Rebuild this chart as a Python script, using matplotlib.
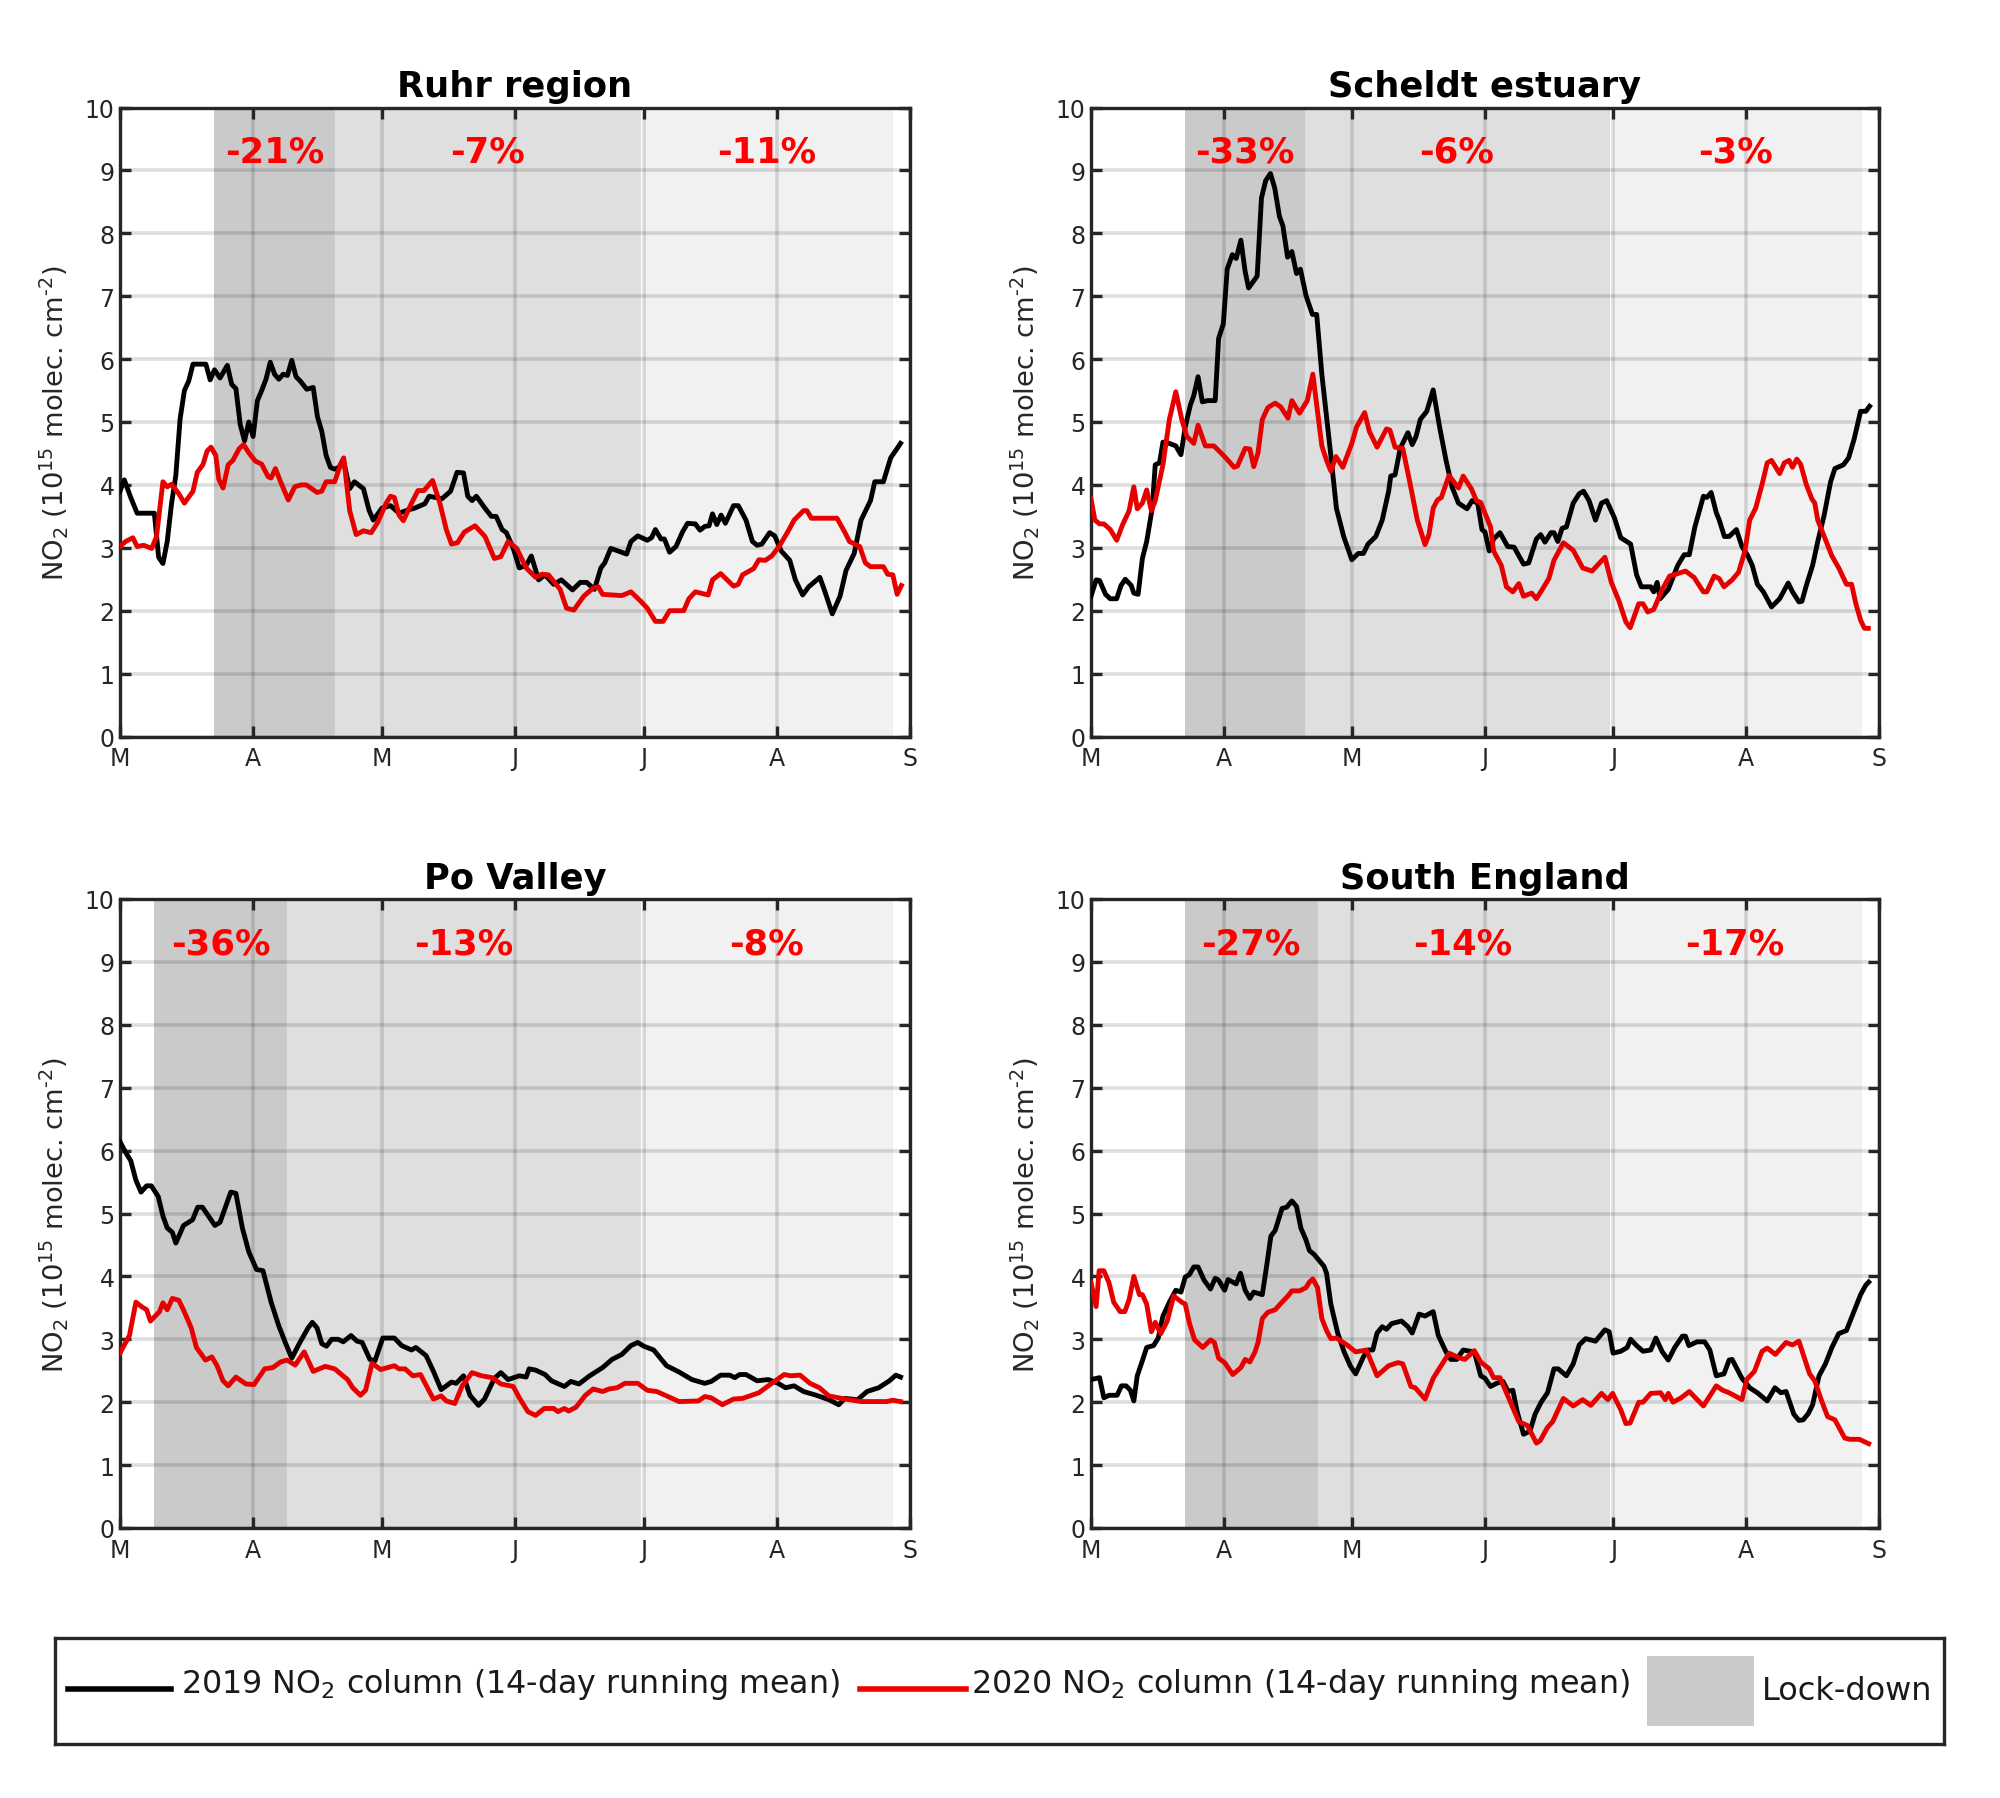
import matplotlib
matplotlib.use("Agg")
import matplotlib.pyplot as plt
from matplotlib.patches import Rectangle

plt.rcParams['font.family'] = ['DejaVu Sans']
plt.rcParams['mathtext.default'] = 'regular'

month_days = [0, 31, 61, 92, 122, 153, 184]
month_labels = ['M', 'A', 'M', 'J', 'J', 'A', 'S']

ruhr19_d = [0,1,2.5,4,8,9,10,11,12,13,14,15,16,17,20,21,22,23.3,25,26,27,28,29,30,31,32,33,34,35,36,37,38,39,40,41,42,43.5,45,46,47,48,49,50,51,52,53.5,54.6,56.7,58,59,61,63,65,67,68.6,71,72,75,77,78.5,80,81,82,83,85,86.5,87.6,89,90,91.6,93,94.6,95.8,97.5,99,101,102.8,105.4,107.2,108.7,110.5,112,112.9,114.3,116,118,119,120.6,122.8,123.8,124.7,126,126.8,128,129.5,131,132.2,134,135.1,136.2,137.2,138,139,140,141,142.9,144,145.8,147.3,148.4,149.5,151.3,152.5,154,156,157.3,159,160.4,163,164,165.9,167.7,169.1,171,172.6,174.8,175.8,177.8,179.5,181.8]
ruhr19_v = [3.9,4.08,3.8,3.55,3.55,2.85,2.75,3.1,3.7,4.15,5.05,5.5,5.65,5.92,5.92,5.67,5.83,5.7,5.9,5.6,5.53,4.96,4.7,5.0,4.77,5.34,5.5,5.68,5.95,5.76,5.68,5.76,5.74,5.98,5.72,5.65,5.52,5.55,5.08,4.85,4.47,4.28,4.25,4.28,4.4,3.94,4.05,3.94,3.6,3.44,3.63,3.67,3.55,3.6,3.63,3.7,3.82,3.78,3.9,4.2,4.19,3.82,3.75,3.82,3.63,3.5,3.5,3.29,3.24,2.99,2.68,2.72,2.87,2.49,2.57,2.42,2.49,2.33,2.45,2.45,2.34,2.68,2.76,2.99,2.95,2.9,3.1,3.19,3.12,3.16,3.29,3.14,3.14,2.93,3.02,3.25,3.39,3.38,3.28,3.34,3.35,3.54,3.37,3.52,3.39,3.67,3.67,3.44,3.1,3.04,3.06,3.24,3.19,2.95,2.8,2.49,2.25,2.38,2.53,2.34,1.95,2.23,2.64,2.91,3.44,3.75,4.05,4.05,4.43,4.66]
ruhr20_d = [0,1.3,3,4,5.5,7.4,8.5,10,11,12,13.7,15,17,18,19.3,20.3,21.2,22.3,23,24,25.2,26.3,27.8,28.8,30,31.5,33,34.5,35.2,36.2,37.4,39.2,40.7,42.2,43.4,45.9,47,48,50,51.5,52.1,53.5,55,56.7,58.5,60,62,63,63.9,65,66,67.9,69.4,70.8,72.8,74.5,76,77.2,78.6,80.2,82.7,85,87.2,88.7,90.4,92.4,94.6,96.8,98.3,99.8,102.5,104,105.7,108,110.2,111.4,112.4,114.6,116.9,119,121.3,122.8,124.7,126.5,128,131.3,132.5,134,137,138,139.9,142.9,144,145,147.6,148.8,150.3,151.8,153.5,155.5,157,159.2,160,161,162.9,165,167,168.8,169.9,172.3,173.6,174.8,177.8,178.8,180,181,182]
ruhr20_v = [3.02,3.1,3.16,3.02,3.04,2.99,3.18,4.05,3.97,4.01,3.86,3.71,3.9,4.2,4.32,4.54,4.6,4.47,4.09,3.95,4.32,4.39,4.58,4.64,4.51,4.38,4.33,4.13,4.11,4.26,4.05,3.76,3.97,4.0,4.0,3.88,3.9,4.05,4.05,4.35,4.43,3.59,3.21,3.27,3.24,3.4,3.71,3.82,3.8,3.52,3.43,3.71,3.91,3.91,4.07,3.71,3.29,3.06,3.08,3.25,3.35,3.18,2.83,2.86,3.1,2.99,2.68,2.53,2.58,2.57,2.34,2.04,2.01,2.23,2.36,2.38,2.26,2.25,2.24,2.3,2.15,2.04,1.83,1.83,2.0,2.0,2.19,2.3,2.25,2.49,2.59,2.39,2.42,2.57,2.67,2.81,2.8,2.87,3.02,3.25,3.44,3.59,3.59,3.47,3.47,3.47,3.47,3.25,3.1,3.02,2.76,2.7,2.7,2.58,2.57,2.26,2.4]

scheldt19_d = [0,1.2,2,3.4,4.5,6,7,8,9.4,10,11,12,13,14.3,15,16,16.8,18.3,19.8,21,22,23.2,24,25,26,27.2,29,29.8,30.9,31.8,33,33.9,35,36,36.8,38.8,39.8,40.8,41.9,42.9,44,44.8,45.9,46.9,48,48.9,50.2,51.7,52.7,53.9,55,56,57.3,59,60.9,62.4,63.6,64.7,66.5,68,69.5,70,71,72.2,74,75,75.9,76.9,78.4,79.9,81.4,82.9,84.3,85.8,87.8,89,90.3,91.3,92,93,94,95.5,97.3,98.8,101,102.2,104,105,106,107.4,108.1,109,110,111,112.6,114,115,116.3,117.8,119.2,120.4,122.2,123.7,126,127.4,128.5,130.7,131.4,132.2,132.9,134.8,137,138.5,139.7,141,143,143.8,144.8,146,146.7,147.9,149,150.7,152,153.4,154.4,155.6,157,158.9,160.8,162.8,163.8,165.3,166,167.2,168.5,169.7,171.2,172.7,173.7,175.7,176.9,178.2,179.7,180.9,181.8]
scheldt19_v = [2.23,2.49,2.48,2.26,2.19,2.19,2.4,2.5,2.4,2.28,2.26,2.83,3.1,3.63,4.32,4.35,4.68,4.66,4.62,4.48,4.92,5.27,5.42,5.72,5.32,5.34,5.34,6.33,6.56,7.43,7.66,7.6,7.89,7.39,7.13,7.32,8.56,8.84,8.95,8.72,8.27,8.12,7.62,7.71,7.36,7.43,7.01,6.71,6.71,5.76,5.08,4.47,3.63,3.18,2.81,2.91,2.91,3.06,3.18,3.44,3.9,4.14,4.16,4.58,4.83,4.64,4.77,5.04,5.17,5.51,4.92,4.39,3.97,3.71,3.62,3.75,3.71,3.29,3.25,2.95,3.14,3.24,3.02,3.01,2.74,2.76,3.14,3.21,3.09,3.24,3.24,3.1,3.31,3.33,3.71,3.86,3.9,3.75,3.44,3.71,3.75,3.48,3.16,3.06,2.57,2.38,2.38,2.3,2.45,2.19,2.34,2.72,2.89,2.89,3.33,3.82,3.8,3.88,3.56,3.44,3.18,3.18,3.29,3.02,2.87,2.72,2.42,2.3,2.06,2.19,2.44,2.3,2.14,2.15,2.44,2.72,3.1,3.52,4.05,4.26,4.32,4.43,4.73,5.17,5.17,5.25]
scheldt20_d = [0,0.9,2,3,4.5,6,7.4,8.9,10,10.8,12,13,14.1,15,16.8,18.3,19.8,21.2,22.4,24,25,26.7,28.7,30.9,32,33.4,34.2,36,37.1,38,39,40,41.3,43,44.3,46,46.9,48.7,50.5,51.8,53.2,53.9,55,56,57.2,58.8,60.9,62,63.9,65,66.8,69,69.8,71,72.8,74.3,76.2,78,78.9,79.9,80.9,81.8,83.6,85.8,86.9,88.8,90,91,93.3,94,95.8,97,98.5,99.9,101,102.9,104,105.4,106.9,108.1,110.3,112.6,114.8,117,120,121.5,123.3,124.9,125.9,127.9,128.9,130,131.4,133.4,135.1,137,138.8,140.8,143,143.8,145.5,146.7,147.8,149.7,151.2,152.7,153.8,155.2,156.7,157.9,158.9,160.8,161.9,163,163.8,164.8,165.7,167,168.3,169,169.7,171.2,173,174.6,176.4,177.6,178.6,179.7,180.6,181.5]
scheldt20_v = [3.78,3.44,3.38,3.38,3.29,3.12,3.37,3.59,3.97,3.62,3.71,3.92,3.59,3.75,4.32,5.04,5.48,5.04,4.77,4.66,4.95,4.62,4.62,4.47,4.39,4.28,4.3,4.58,4.57,4.29,4.51,5.04,5.23,5.3,5.24,5.06,5.34,5.14,5.34,5.76,5.0,4.62,4.39,4.22,4.45,4.28,4.66,4.92,5.15,4.85,4.6,4.89,4.87,4.6,4.58,4.09,3.44,3.05,3.21,3.63,3.76,3.8,4.15,3.95,4.14,3.94,3.75,3.72,3.33,2.95,2.72,2.38,2.3,2.43,2.23,2.28,2.19,2.34,2.51,2.8,3.08,2.96,2.68,2.63,2.85,2.45,2.15,1.82,1.73,2.11,2.11,1.98,2.02,2.34,2.55,2.59,2.63,2.53,2.3,2.3,2.55,2.51,2.38,2.49,2.61,2.95,3.44,3.63,4.01,4.35,4.39,4.18,4.35,4.39,4.28,4.41,4.33,4.01,3.78,3.71,3.44,3.18,2.87,2.68,2.42,2.42,2.11,1.85,1.72,1.72]

po19_d = [0,1.5,2.5,3.7,4.9,6.2,7.3,8.9,10,11,12.2,13,14.8,16.9,18.1,19.2,21,22.1,23.3,25.8,27,28.5,30,31.8,33.3,35.2,37,38.5,40,41.9,43.8,44.8,45.9,47,48.1,49.3,50.8,52,53.8,55.2,56.4,58.2,59.4,61.2,63.9,65.6,67.9,68.9,71.3,73,74.8,77.2,78.3,80,81.5,83.5,84.9,87.2,88.7,90.4,93,94.6,95.3,96.8,99,100.5,103.5,105,106.9,109.4,112.4,114.6,116.9,119,120.6,122,124.3,127.3,130.2,133.2,136.2,137.7,139.9,142,143.2,144.3,145.8,148.4,151,153.3,155,157,159.2,162.2,165.1,167.4,168.8,171.8,174,176.7,179.2,180.7,181.8]
po19_v = [6.14,5.95,5.84,5.53,5.34,5.44,5.44,5.27,4.96,4.77,4.7,4.53,4.81,4.9,5.1,5.1,4.92,4.81,4.86,5.34,5.32,4.77,4.39,4.11,4.09,3.59,3.21,2.95,2.7,2.95,3.18,3.27,3.18,2.93,2.89,3.0,3.0,2.96,3.06,2.97,2.95,2.68,2.66,3.02,3.02,2.9,2.83,2.87,2.74,2.49,2.2,2.32,2.3,2.42,2.11,1.95,2.05,2.38,2.47,2.36,2.42,2.4,2.53,2.51,2.44,2.34,2.25,2.33,2.29,2.42,2.55,2.68,2.76,2.9,2.95,2.89,2.83,2.58,2.48,2.36,2.3,2.33,2.43,2.43,2.39,2.44,2.44,2.34,2.36,2.3,2.23,2.26,2.17,2.11,2.04,1.96,2.06,2.04,2.17,2.23,2.34,2.43,2.4]
po20_d = [0,1,2.2,3.7,5,6.2,7.1,9.2,10,11,12.2,13.7,14.7,16.6,17.8,19.9,21.4,22.6,24,25.2,27,29.3,31.2,33.7,35.6,37.4,38.9,40.8,42.9,45,47.8,50,53,54.2,56,57.2,58.7,60.7,63.9,65,66.4,68.2,70,71.6,73,74.8,76,78,79.7,82,84.2,86.7,88.7,91.6,93,95,96.8,98.8,101,102,103.5,104.5,106.2,108.4,110.2,112.4,113.9,115.8,117.6,120.6,122.8,125,127.3,130.2,134.7,136.2,137.7,140.3,142.9,145,148.8,151,154.7,156.2,158.4,160.7,162.9,165.1,168.1,172.6,178.5,180,181.8]
po20_v = [2.78,2.91,3.06,3.59,3.52,3.47,3.29,3.44,3.58,3.47,3.65,3.62,3.48,3.18,2.87,2.67,2.72,2.58,2.34,2.26,2.4,2.29,2.28,2.53,2.55,2.64,2.67,2.59,2.8,2.49,2.57,2.53,2.36,2.23,2.11,2.19,2.62,2.52,2.58,2.53,2.53,2.42,2.44,2.23,2.05,2.1,2.02,1.98,2.26,2.47,2.42,2.39,2.29,2.25,2.07,1.85,1.79,1.9,1.9,1.85,1.9,1.86,1.92,2.11,2.21,2.17,2.21,2.23,2.3,2.3,2.19,2.17,2.1,2.01,2.02,2.09,2.07,1.96,2.05,2.06,2.15,2.26,2.44,2.42,2.43,2.3,2.23,2.1,2.06,2.01,2.01,2.03,2.01]

england19_d = [0,2,3,4.2,6.1,7.1,8.2,9.2,10,10.8,11.9,13,14.6,15.7,16.8,18.3,19.8,21,22,23,24,25,26.4,27.9,29,29.8,31.2,32,33.9,34.9,36,37.1,38,40,41,42,43,44.6,45.7,46.9,48,49,50.2,51,52.1,53.2,54.4,55,56,57.6,59.1,60.6,61.8,63.6,64.7,65.8,66.8,68,69,70.2,72.5,74,75,76.6,78,79.9,81.1,82.9,84,85.4,86.9,89.5,91,92,93.3,94.7,96.2,97.4,98.5,99.5,101,102.5,103.7,105.1,106.6,108.1,109.1,111,112.6,114,115.5,117.8,120,121,121.9,123.7,125.2,126,127.4,128.9,130.7,131.9,133.4,134.8,136.3,138.1,138.8,139.6,141.5,143.3,144.5,146,147.8,149,149.7,152,153.8,155.6,157.9,159.7,161.1,162.3,164.1,165.3,166.3,167.5,168.5,170,171.5,173,174.6,176.4,177.9,179.7,180.9,181.6]
england19_v = [2.36,2.39,2.07,2.11,2.11,2.26,2.26,2.19,2.02,2.42,2.64,2.87,2.9,3.02,3.37,3.59,3.78,3.75,3.99,4.03,4.15,4.15,3.94,3.8,3.97,3.94,3.78,3.95,3.88,4.05,3.78,3.65,3.75,3.71,4.16,4.64,4.73,5.08,5.1,5.2,5.11,4.77,4.58,4.41,4.35,4.26,4.16,4.05,3.56,3.1,2.8,2.57,2.45,2.72,2.83,2.83,3.1,3.2,3.16,3.25,3.29,3.2,3.1,3.4,3.37,3.44,3.06,2.8,2.68,2.68,2.83,2.8,2.42,2.38,2.25,2.3,2.33,2.17,2.19,1.85,1.49,1.54,1.81,2.0,2.15,2.53,2.53,2.42,2.61,2.91,3.01,2.97,3.15,3.12,2.78,2.81,2.87,3.0,2.9,2.81,2.83,3.02,2.8,2.67,2.87,3.05,3.05,2.9,2.96,2.96,2.83,2.42,2.45,2.67,2.68,2.38,2.23,2.15,2.02,2.23,2.15,2.17,1.81,1.71,1.72,1.82,1.96,2.42,2.61,2.87,3.09,3.14,3.4,3.71,3.86,3.91]
england20_d = [0,1.2,1.9,3,4.2,5.3,6.8,7.9,8.9,10,11.3,12,13,14.1,15,16.3,17.8,19.3,21.2,22,23,24.2,26.1,27.9,28.8,29.8,31.2,33.1,35,36,37.1,38.3,39,40,41.3,43,44.6,46,46.9,48.7,50.2,51,51.8,52.9,53.9,55,56,57.3,59.8,61.8,64.3,66.8,69.5,71.7,72.8,74.7,75.7,78,79.9,83.6,85.8,87.3,89.5,91,93,94,95.5,97.7,99.9,101.9,104,104.9,106.6,107.8,110.3,112.6,114.8,116.7,119.2,120.7,121.8,123.7,124.9,125.9,127.9,128.9,130.7,133,134.1,134.8,135.9,137.8,139.7,143,146,147.5,149,152,153.1,154.9,156.7,157.9,159.8,162.3,163.8,165.3,166.3,167.8,169,170.5,172,173.7,176,177.2,179.4,181.6]
england20_v = [3.9,3.52,4.09,4.09,3.9,3.59,3.44,3.44,3.63,4.0,3.71,3.71,3.56,3.12,3.27,3.09,3.29,3.69,3.59,3.56,3.25,2.99,2.87,2.99,2.95,2.7,2.63,2.44,2.55,2.68,2.64,2.8,2.95,3.33,3.43,3.47,3.59,3.69,3.77,3.77,3.82,3.91,3.96,3.82,3.33,3.14,3.01,3.02,2.91,2.8,2.83,2.42,2.58,2.63,2.61,2.25,2.23,2.05,2.38,2.78,2.71,2.68,2.82,2.64,2.53,2.39,2.39,2.04,1.69,1.63,1.35,1.39,1.6,1.69,2.06,1.94,2.04,1.95,2.14,2.04,2.14,1.88,1.66,1.67,2.0,2.0,2.14,2.15,2.04,2.14,2.0,2.07,2.17,1.94,2.26,2.19,2.15,2.04,2.36,2.49,2.81,2.86,2.76,2.95,2.91,2.97,2.76,2.45,2.34,2.04,1.77,1.72,1.43,1.41,1.41,1.34]

titles = ['Ruhr region', 'Scheldt estuary', 'Po Valley', 'South England']
series19 = [(ruhr19_d, ruhr19_v), (scheldt19_d, scheldt19_v), (po19_d, po19_v), (england19_d, england19_v)]
series20 = [(ruhr20_d, ruhr20_v), (scheldt20_d, scheldt20_v), (po20_d, po20_v), (england20_d, england20_v)]
lockdown_spans = [(22, 50), (22, 50), (8, 39), (22, 53)]
phase2_end = 121.3
phase3_span = [(122, 180), (122, 180), (122, 180), (122, 180)]
pct_labels = [['-21%', '-7%', '-11%'], ['-33%', '-6%', '-3%'], ['-36%', '-13%', '-8%'], ['-27%', '-14%', '-17%']]
pct_days = [[36, 85.7, 150.6], [35.8, 85.4, 150.4], [23.6, 80, 150.6], [37.4, 86.9, 150.4]]
yticks = list(range(0, 11))

W, H = 2000, 1799
fig = plt.figure(figsize=(W / 100, H / 100), dpi=100, facecolor='white')
boxes = [(120, 108.5, 790, 629), (1091, 108.5, 788, 629), (120, 900, 790, 629), (1091, 900, 788, 629)]
dark = '#262626'
for i, (bx, by, bw, bh) in enumerate(boxes):
    ax = fig.add_axes([bx / W, 1 - (by + bh) / H, bw / W, bh / H])
    ld0, ld1 = lockdown_spans[i]
    ax.axvspan(ld0, ld1, color='#cacaca', lw=0, zorder=1)
    ax.axvspan(ld1, phase2_end, color='#dfdfdf', lw=0, zorder=1)
    ax.axvspan(*phase3_span[i], color='#f1f1f1', lw=0, zorder=1)
    ax.plot(*series19[i], color='black', lw=3.5, zorder=3, solid_joinstyle='round')
    ax.plot(*series20[i], color='#e60000', lw=3.5, zorder=4, solid_joinstyle='round')
    ax.set_xlim(0, 184)
    ax.set_ylim(0, 10)
    ax.set_xticks(month_days)
    ax.set_xticklabels(month_labels)
    ax.set_yticks(yticks)
    ax.grid(True, color='black', alpha=0.13, lw=2.6)
    ax.tick_params(direction='in', length=8, width=2.4, top=True, right=True, labelsize=17,
                   color=dark, labelcolor=dark)
    ax.tick_params(axis='x', pad=7)
    ax.tick_params(axis='y', pad=4)
    for s in ax.spines.values():
        s.set_linewidth(2.4)
        s.set_color(dark)
    ax.set_title(titles[i], fontsize=25.4, fontweight='bold', color='black', pad=8)
    ax.set_ylabel(r'NO$_2$ (10$^{15}$ molec. cm$^{\text{-}2}$)', fontsize=19.7, color=dark, labelpad=10.5)
    for lab, d in zip(pct_labels[i], pct_days[i]):
        ax.text(d, 9.3, lab, color='#ff0000', fontsize=25.5, fontweight='bold', ha='center', va='center', zorder=5)

# legend box
lg = fig.add_axes([55 / W, 1 - 1744.5 / H, 1889 / W, 106 / H])
lg.set_xlim(55, 1944)
lg.set_ylim(1742, 1636)
lg.set_xticks([])
lg.set_yticks([])
for s in lg.spines.values():
    s.set_linewidth(2.4)
    s.set_color(dark)
lg.plot([68, 171], [1687, 1687], color='black', lw=4)
lg.plot([860, 966], [1687, 1687], color='#f00000', lw=4)
lg.add_patch(Rectangle((1647, 1654), 107, 70, color='#cacaca', lw=0))
lg.text(181, 1682, r'2019 NO$_2$ column (14-day running mean)', fontsize=22.9, color='#1a1a1a', va='center', ha='left')
lg.text(971, 1682, r'2020 NO$_2$ column (14-day running mean)', fontsize=22.9, color='#1a1a1a', va='center', ha='left')
lg.text(1762, 1689, 'Lock-down', fontsize=23, color='#1a1a1a', va='center', ha='left')

fig.savefig('out.png', dpi=100)
